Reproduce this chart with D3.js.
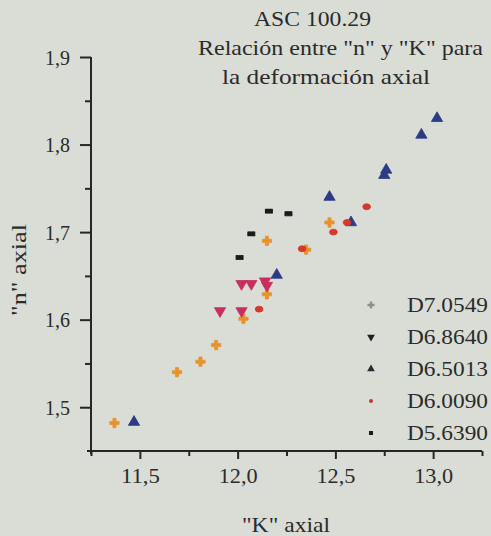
<!DOCTYPE html>
<html>
<head>
<meta charset="utf-8">
<script src="https://cdn.jsdelivr.net/npm/d3@7"></script>
<style>
  html, body { margin: 0; padding: 0; background: #d9ddd6; }
  svg { display: block; }
  svg text { fill: #2b2b2b; }
</style>
</head>
<body>
<svg id="chart" width="491" height="536"></svg>
<script>
// Series names (legend order)
const seriesNames = ["D7.0549", "D6.8640", "D6.5013", "D6.0090", "D5.6390"];

// K axial / n axial pairs per series
const kD70549 = [11.37, 11.69, 11.81, 11.89, 12.03, 12.15, 12.15, 12.47, 12.35];
const nD70549 = [1.482, 1.540, 1.552, 1.571, 1.601, 1.629, 1.690, 1.711, 1.680];

const kD68640 = [11.91, 12.02, 12.02, 12.07, 12.14, 12.15];
const nD68640 = [1.610, 1.610, 1.641, 1.641, 1.644, 1.639];

const kD65013 = [11.47, 12.20, 12.47, 12.58, 12.76, 12.75, 12.94, 13.02];
const nD65013 = [1.483, 1.651, 1.740, 1.711, 1.771, 1.765, 1.811, 1.830];

const kD60090 = [12.11, 12.33, 12.56, 12.49, 12.66];
const nD60090 = [1.612, 1.681, 1.711, 1.700, 1.729];

const kD56390 = [12.16, 12.26, 12.07, 12.01];
const nD56390 = [1.724, 1.721, 1.698, 1.671];

// Axis ticks
const xMajor = [11.5, 12.0, 12.5, 13.0];
const xMinor = [11.25, 11.75, 12.25, 12.75, 13.25];
const yMajor = [1.5, 1.6, 1.7, 1.8, 1.9];
const yMinor = [1.55, 1.65, 1.75, 1.85];

const titleLines = ["ASC 100.29", "Relación entre \"n\" y \"K\" para", "la deformación axial"];

// Pick the first installed Times-like face; fall back to DejaVu Serif
function pickFont(cands) {
  const ctx = document.createElement("canvas").getContext("2d");
  const probe = "Relación axial 0123456789 WMmwil";
  const w = f => { ctx.font = "40px " + f; return ctx.measureText(probe).width; };
  const mono = w("monospace"), sans = w("sans-serif");
  for (const c of cands) {
    const q = `"${c}"`;
    if (w(q + ", monospace") !== mono && w(q + ", sans-serif") !== sans) return q;
  }
  return null;
}
const face = pickFont(["Liberation Serif", "Times New Roman", "Tinos", "Nimbus Roman", "Nimbus Roman No9 L",
                       "Times", "Noto Serif", "DejaVu Serif Condensed", "DejaVu Serif"]);
const FONT = (face ? face + ", " : "") + "serif";

const svg = d3.select("#chart");

const x = d3.scaleLinear().domain([11.25, 13.25]).range([91, 482]);
const y = d3.scaleLinear().domain([1.45, 1.9]).range([451, 57]);

const fmt = v => d3.format(".1f")(v).replace(".", ",");

// Axes
const axisColor = "#262626";
function styleAxis(g) {
  g.attr("font-family", FONT);
  g.select(".domain").remove();
  g.selectAll(".tick line").attr("stroke", axisColor).attr("stroke-width", 2);
  g.selectAll(".tick text").attr("fill", "#2b2b2b")
    .style("font-family", FONT).style("font-size", "22px")
    .attr("textLength", d => fmt(d).length === 3 ? 25 : 39)
    .attr("lengthAdjust", "spacingAndGlyphs");
}

// y axis line
svg.append("line").attr("x1", x(11.25)).attr("x2", x(11.25))
  .attr("y1", y(1.9)).attr("y2", y(1.45) + 3)
  .attr("stroke", axisColor).attr("stroke-width", 2);
// x axis line
svg.append("line").attr("x1", x(11.25) - 4).attr("x2", x(13.25))
  .attr("y1", y(1.45)).attr("y2", y(1.45))
  .attr("stroke", axisColor).attr("stroke-width", 2);

svg.append("g").attr("transform", `translate(${x(11.25)},0)`)
  .call(d3.axisLeft(y).tickValues(yMajor).tickSize(11).tickPadding(10).tickFormat(fmt))
  .call(styleAxis);
svg.append("g").attr("transform", `translate(${x(11.25)},0)`)
  .call(d3.axisLeft(y).tickValues(yMinor).tickSize(6).tickFormat(""))
  .call(g => { g.select(".domain").remove(); g.selectAll(".tick line").attr("stroke", axisColor).attr("stroke-width", 2); });

svg.append("g").attr("transform", `translate(0,${y(1.45)})`)
  .call(d3.axisBottom(x).tickValues(xMajor).tickSize(8).tickPadding(8).tickFormat(fmt))
  .call(styleAxis);
svg.append("g").attr("transform", `translate(0,${y(1.45)})`)
  .call(d3.axisBottom(x).tickValues(xMinor).tickSize(5).tickFormat(""))
  .call(g => { g.select(".domain").remove(); g.selectAll(".tick line").attr("stroke", axisColor).attr("stroke-width", 2); });

// Axis titles
svg.append("text").attr("x", 286).attr("y", 532).attr("text-anchor", "middle")
  .attr("textLength", 88).attr("lengthAdjust", "spacingAndGlyphs")
  .style("font-family", FONT).style("font-size", "22px").text("\"K\" axial");
svg.append("text").attr("transform", "translate(26,270) rotate(-90)")
  .attr("text-anchor", "middle")
  .attr("textLength", 92).attr("lengthAdjust", "spacingAndGlyphs")
  .style("font-family", FONT).style("font-size", "22px").text("\"n\" axial");

// Title
const titleX = [254, 198, 222];
const titleW = [117, 285, 208];
titleLines.forEach((t, i) => {
  svg.append("text").attr("x", titleX[i]).attr("y", 26 + i * 29)
    .attr("textLength", titleW[i]).attr("lengthAdjust", "spacingAndGlyphs")
    .style("font-family", FONT).style("font-size", "21px").text(t);
});

// Series definitions: marks in plot
const series = [
  { k: kD70549, n: nD70549, type: d3.symbolCross, size: 48, color: "#e8922e", legendColor: "#8c8f88", legendType: d3.symbolCross, legendSize: 28 },
  { k: kD68640, n: nD68640, type: d3.symbolTriangle, size: 55, color: "#c7305e", rot: 180, legendColor: "#1e1e1e", legendType: d3.symbolTriangle, legendSize: 26 },
  { k: kD65013, n: nD65013, type: d3.symbolTriangle, size: 55, color: "#2d3a86", legendColor: "#2a2a2e", legendType: d3.symbolTriangle, legendSize: 26 },
  { k: kD60090, n: nD60090, type: d3.symbolCircle, size: 30, color: "#d5392c", ellipse: true, legendColor: "#c8302a", legendType: d3.symbolCircle, legendSize: 12 },
  { k: kD56390, n: nD56390, type: d3.symbolSquare, size: 24, color: "#1a1a1a", wide: true, legendColor: "#1a1a1a", legendType: d3.symbolSquare, legendSize: 16 }
];

const plot = svg.append("g");
series.forEach(s => {
  const pts = s.k.map((k, i) => [k, s.n[i]]);
  plot.selectAll(null).data(pts).enter().append("path")
    .attr("d", d3.symbol().type(s.type).size(s.size))
    .attr("transform", d => {
      let t = `translate(${x(d[0])},${y(d[1])})`;
      if (s.rot) t += ` rotate(${s.rot})`;
      if (s.ellipse) t += " scale(1.25,0.95)";
      if (s.wide) t += " scale(1.4,0.85)";
      return t;
    })
    .attr("fill", s.color)
    .attr("stroke", s.color)
    .attr("stroke-width", 0.8)
    .attr("stroke-linejoin", "round");
});

// Legend
const legend = svg.append("g");
seriesNames.forEach((name, i) => {
  const s = series[i];
  const cy = 305 + i * 32;
  legend.append("path")
    .attr("d", d3.symbol().type(s.legendType).size(s.legendSize))
    .attr("transform", `translate(371,${cy})${s.rot ? " rotate(180)" : ""}`)
    .attr("fill", s.legendColor);
  legend.append("text").attr("x", 407).attr("y", cy + 7)
    .attr("textLength", 81).attr("lengthAdjust", "spacingAndGlyphs")
    .style("font-family", FONT).style("font-size", "21px").text(name);
});
</script>
</body>
</html>
